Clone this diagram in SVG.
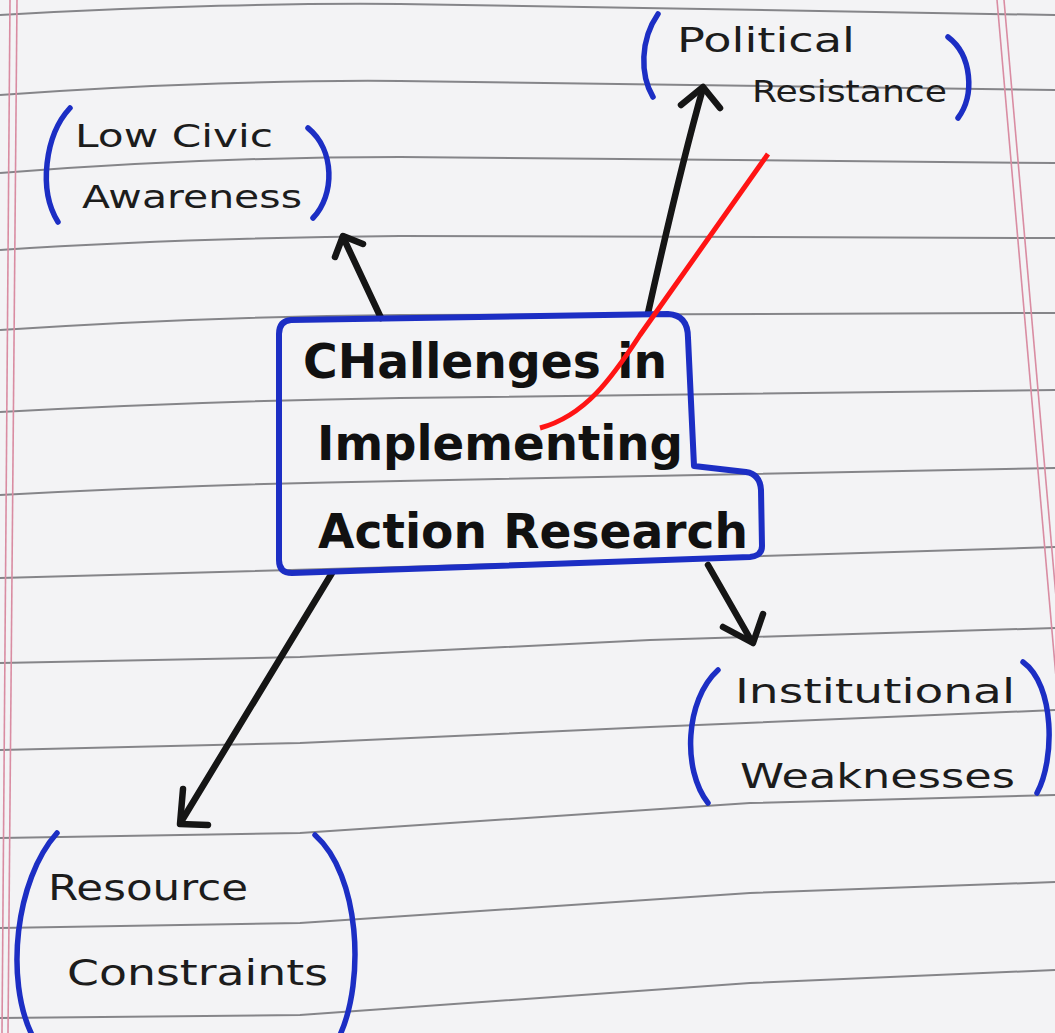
<svg xmlns="http://www.w3.org/2000/svg" width="1055" height="1033" viewBox="0 0 1055 1033">
<style>
.rule{fill:none;stroke:#858589;stroke-width:2}
.margin{fill:none;stroke:#d98ca2;stroke-width:1.6}
.paren{fill:none;stroke:#1c2ec4;stroke-width:5.5;stroke-linecap:round}
.arrow{fill:none;stroke:#151515;stroke-width:6.5;stroke-linecap:round;stroke-linejoin:round}
.hand{font-family:"DejaVu Sans","Liberation Sans",sans-serif;font-weight:normal;fill:#1c1c1c}
.bold{font-family:"DejaVu Sans","Liberation Sans",sans-serif;font-weight:bold;fill:#111}
</style>
<rect x="0" y="0" width="1055" height="1033" fill="#f3f3f5"/>
<g id="paper">
<path class="rule" d="M0,15 C150,6 300,3 400,4 L1055,15"/>
<path class="rule" d="M0,95 C150,84 300,80 400,81 L1055,90"/>
<path class="rule" d="M0,173 C150,161 300,157 400,157 L1055,163"/>
<path class="rule" d="M0,250 C150,240 300,237 400,236 L1055,238"/>
<path class="rule" d="M0,330 C150,320 270,316 400,315 L1055,313"/>
<path class="rule" d="M0,412 C150,404 270,400 400,398 L1055,390"/>
<path class="rule" d="M0,495 C150,487 270,483 400,481 L1055,468"/>
<path class="rule" d="M0,578 C150,573 300,569 400,567 L1055,547"/>
<path class="rule" d="M0,663 L300,657 L650,640 L1055,628"/>
<path class="rule" d="M0,750 L300,743 L650,727 L1055,710"/>
<path class="rule" d="M0,838 L300,833 L750,803 L1055,795"/>
<path class="rule" d="M0,928 L300,923 L750,893 L1055,882"/>
<path class="rule" d="M0,1018 L300,1015 L750,983 L1055,970"/>
<path class="margin" d="M10,0 L2,1033"/>
<path class="margin" d="M17,0 L8,1033"/>
<path class="margin" d="M997,0 L1058,700"/>
<path class="margin" d="M1004,0 L1065,700"/>
</g>
<g id="connectors">
<path class="arrow" d="M381,318 L343,237"/>
<path class="arrow" d="M335,257 L343,236 L363,244"/>
<path class="arrow" d="M648,313 C662,250 680,170 703,88"/>
<path class="arrow" d="M681,105 L703,87 L720,108"/>
<path class="arrow" d="M708,565 L752,642"/>
<path class="arrow" d="M723,627 L753,643 L763,614"/>
<path class="arrow" d="M332,573 L181,822"/>
<path class="arrow" d="M183,789 L180,824 L208,825"/>
</g>
<g id="central">
<path d="M291,320 L668,314 Q688,315 688,338 L694,466 L746,472 Q760,474 761,490 L762,546 Q762,556 750,557 L292,573 Q279,573 279,560 L279,334 Q279,321 291,320 Z" fill="none" stroke="#1c2ec4" stroke-width="6" stroke-linejoin="round"/>
<text class="bold" x="303" y="378" font-size="48" textLength="364" lengthAdjust="spacingAndGlyphs">CHallenges in</text>
<text class="bold" x="317" y="460" font-size="48" textLength="366" lengthAdjust="spacingAndGlyphs">Implementing</text>
<text class="bold" x="318" y="548" font-size="48" textLength="430" lengthAdjust="spacingAndGlyphs">Action Research</text>
</g>
<g id="low-civic">
<path class="paren" d="M70,108 C45,135 38,190 58,222"/>
<path class="paren" d="M308,128 C335,150 335,195 313,218"/>
<text class="hand" x="75" y="147" font-size="32" textLength="198" lengthAdjust="spacingAndGlyphs">Low Civic</text>
<text class="hand" x="82" y="208" font-size="32" textLength="220" lengthAdjust="spacingAndGlyphs">Awareness</text>
</g>
<g id="political">
<path class="paren" d="M658,14 C640,40 640,75 653,97"/>
<path class="paren" d="M948,37 C972,55 975,95 958,118"/>
<text class="hand" x="677" y="52" font-size="34" textLength="178" lengthAdjust="spacingAndGlyphs">Political</text>
<text class="hand" x="752" y="102" font-size="31" textLength="195" lengthAdjust="spacingAndGlyphs">Resistance</text>
</g>
<g id="institutional">
<path class="paren" d="M718,670 C685,700 682,770 708,803"/>
<path class="paren" d="M1023,662 C1055,685 1055,760 1037,793"/>
<text class="hand" x="735" y="703" font-size="34" textLength="280" lengthAdjust="spacingAndGlyphs">Institutional</text>
<text class="hand" x="740" y="788" font-size="34" textLength="275" lengthAdjust="spacingAndGlyphs">Weaknesses</text>
</g>
<g id="resource">
<path class="paren" d="M57,833 C15,880 5,980 32,1035"/>
<path class="paren" d="M315,835 C360,875 365,980 340,1035"/>
<text class="hand" x="48" y="900" font-size="35" textLength="200" lengthAdjust="spacingAndGlyphs">Resource</text>
<text class="hand" x="67" y="985" font-size="35" textLength="261" lengthAdjust="spacingAndGlyphs">Constraints</text>
</g>
<path d="M768,154 L640,335 C612,378 585,416 540,428" fill="none" stroke="#ff1414" stroke-width="5" stroke-linecap="butt"/>
</svg>
